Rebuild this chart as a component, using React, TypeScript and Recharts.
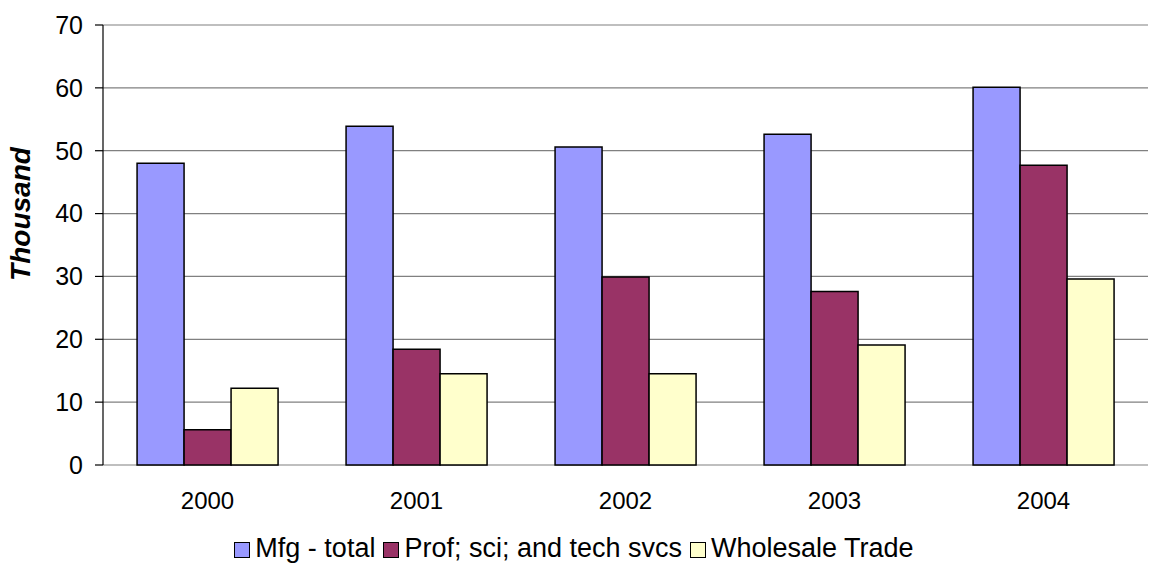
import { BarChart, Bar, XAxis, YAxis, CartesianGrid, Legend } from 'recharts'

const years = ['2000', '2001', '2002', '2003', '2004']
const mfgTotal = [48.0, 53.9, 50.6, 52.6, 60.1]
const profSciTech = [5.6, 18.4, 29.9, 27.6, 47.7]
const wholesaleTrade = [12.2, 14.5, 14.5, 19.1, 29.6]
const yTicks = [0, 10, 20, 30, 40, 50, 60, 70]
const boundaryTicks = [0, 1, 2, 3, 4, 5]

const series = [
  { key: 'mfg', name: 'Mfg - total', color: '#9999ff' },
  { key: 'prof', name: 'Prof; sci; and tech svcs', color: '#993366' },
  { key: 'whole', name: 'Wholesale Trade', color: '#ffffcc' },
]

const data = years.map((y, i) => ({
  year: y,
  mfg: mfgTotal[i],
  prof: profSciTech[i],
  whole: wholesaleTrade[i],
}))

const FONT = '"Liberation Sans", Arial, sans-serif'

function LegendBox() {
  return (
    <div style={{ display: 'flex', justifyContent: 'center', alignItems: 'center', fontFamily: FONT, fontSize: 27, lineHeight: '30px', color: '#000', paddingTop: 10, paddingLeft: 8 }}>
      {series.map((s) => (
        <div key={s.key} style={{ display: 'flex', alignItems: 'center', marginRight: 8 }}>
          <div style={{ width: 14, height: 14, background: s.color, border: '1.5px solid #000', marginRight: 5, marginTop: 4 }} />
          <span>{s.name}</span>
        </div>
      ))}
    </div>
  )
}

function YLabel(props: any) {
  const vb = props.viewBox || { x: 0, y: 0, width: 0, height: 0 }
  const cx = vb.x + 20
  const cy = vb.y + vb.height / 2 - 31
  return (
    <text
      x={cx}
      y={cy}
      transform={`rotate(-90, ${cx}, ${cy})`}
      textAnchor="middle"
      dominantBaseline="central"
      style={{ fontSize: 28, fontWeight: 'bold', fontStyle: 'italic', fill: '#000', fontFamily: FONT }}
    >
      Thousand
    </text>
  )
}

export default function App() {
  return (
    <div style={{ position: 'absolute', left: 0, top: 0, background: '#fff' }}>
      <BarChart
        width={1149}
        height={563}
        data={data}
        margin={{ top: 25, right: 1, left: 0, bottom: 0 }}
        barCategoryGap="16.3%"
        barGap={0}
      >
        <CartesianGrid vertical={false} stroke="#808080" strokeWidth={1.2} />
        <XAxis
          xAxisId="edges"
          type="number"
          domain={[0, 5]}
          allowDataOverflow
          ticks={boundaryTicks}
          tickFormatter={() => ''}
          height={0}
          stroke="#000"
          tickSize={8}
          axisLine={{ stroke: '#000', strokeWidth: 1.2 }}
          tickLine={{ stroke: '#000', strokeWidth: 1.2 }}
        />
        <XAxis
          xAxisId="cat"
          dataKey="year"
          height={58}
          axisLine={false}
          tickLine={false}
          tickMargin={21}
          tick={{ fontSize: 24, fill: '#000', fontFamily: FONT }}
        />
        <YAxis
          width={103}
          domain={[0, 70]}
          ticks={yTicks}
          interval={0}
          tickSize={8}
          tickMargin={12}
          axisLine={{ stroke: '#000', strokeWidth: 1.2 }}
          tickLine={{ stroke: '#000', strokeWidth: 1.2 }}
          tick={{ fontSize: 25, fill: '#000', fontFamily: FONT }}
          label={<YLabel />}
        />
        <Legend verticalAlign="bottom" height={40} content={<LegendBox />} />
        {series.map((s) => (
          <Bar
            key={s.key}
            xAxisId="cat"
            dataKey={s.key}
            name={s.name}
            fill={s.color}
            stroke="#000"
            strokeWidth={1.5}
            isAnimationActive={false}
          />
        ))}
      </BarChart>
    </div>
  )
}
